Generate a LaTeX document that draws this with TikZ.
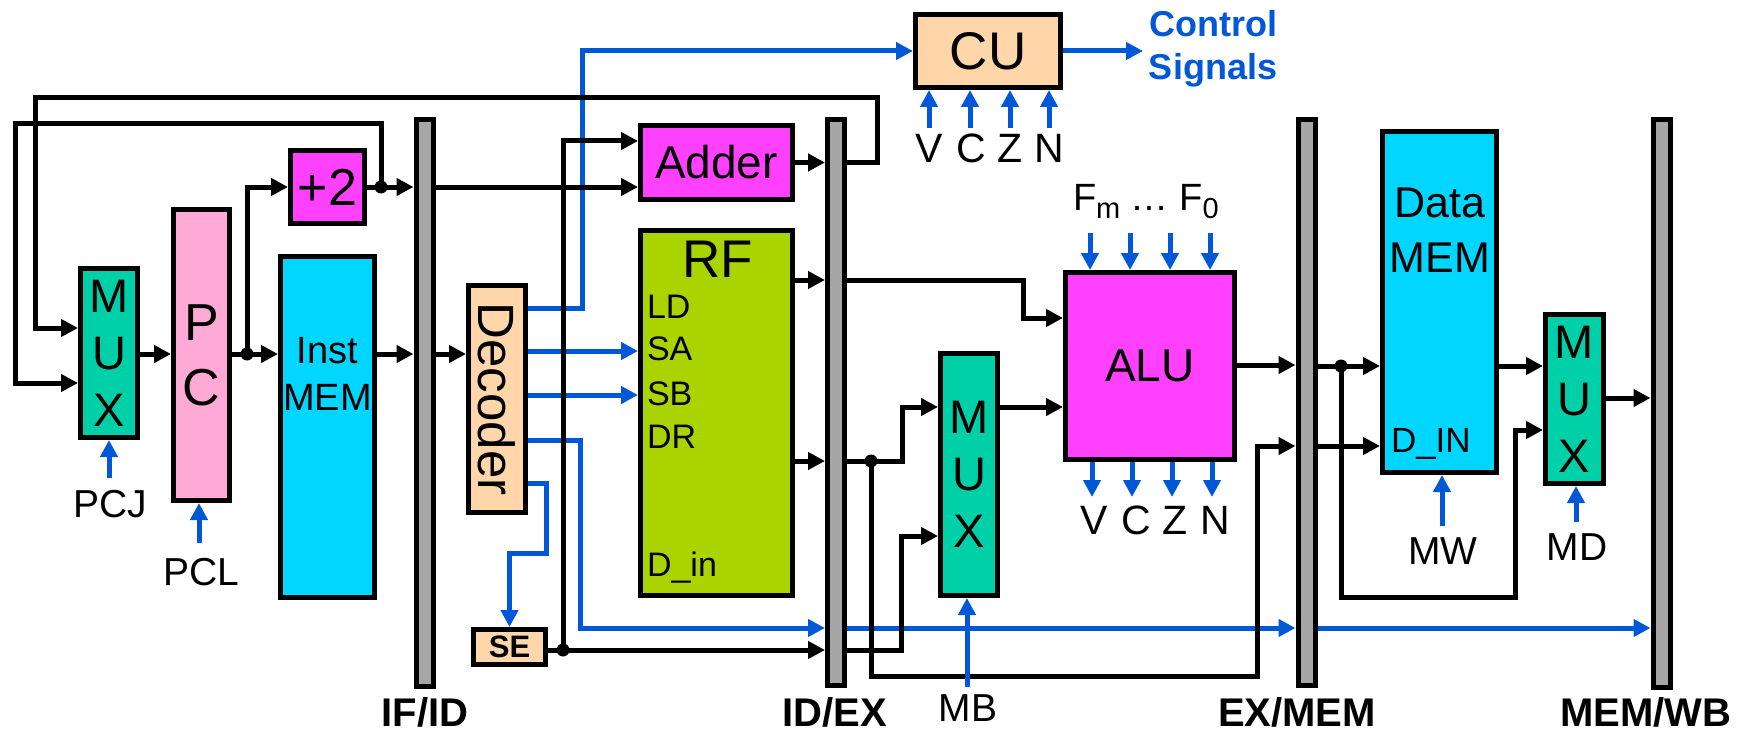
\documentclass[tikz,border=0pt]{standalone}
\usepackage{fontspec}
\setmainfont{Liberation Sans}
\usetikzlibrary{arrows.meta}
\definecolor{muxg}{HTML}{00D0A8}
\definecolor{pcpink}{HTML}{FFAAD6}
\definecolor{memcyan}{HTML}{00D6FF}
\definecolor{magen}{HTML}{FF40FF}
\definecolor{rfgreen}{HTML}{AAD400}
\definecolor{peach}{HTML}{FFD6AA}
\definecolor{bargray}{HTML}{A6A6A6}
\definecolor{sigblue}{HTML}{0058D8}
\newcommand{\fsz}[1]{\fontsize{#1pt}{#1pt}\selectfont}
\begin{document}
\begin{tikzpicture}[x=1pt,y=-1pt,
  box/.style={draw=black,line width=5pt,inner sep=0pt},
  bar/.style={box,fill=bargray,minimum width=17pt},
  wire/.style={draw=black,line width=5pt,-{Triangle[length=17pt,width=17pt]}},
  lnk/.style={draw=black,line width=5pt},
  bwire/.style={draw=sigblue,line width=5pt,-{Triangle[length=17pt,width=17pt]}},
  jdot/.style={circle,fill=black,minimum size=13pt,inner sep=0pt},
  txt/.style={inner sep=0pt,outer sep=0pt},
  stage/.style={txt,font=\bfseries\fsz{40},anchor=base},
  sig/.style={txt,font=\fsz{39},anchor=base},
]
\useasboundingbox (0,0) rectangle (1746,733);

% ---------- boxes ----------
\node[box,fill=muxg,minimum width=57pt,minimum height=169pt,align=center,font=\fontsize{47pt}{57pt}\selectfont] (mux1) at (109,353) {M\\U\\X};
\node[box,fill=pcpink,minimum width=56pt,minimum height=291pt,align=center,font=\fontsize{52pt}{65pt}\selectfont] (pc) at (201.5,355) {P\\C};
\node[box,fill=memcyan,minimum width=94pt,minimum height=341pt] (imem) at (327.5,427) {};
\node[txt,font=\fsz{38},anchor=base] (imemA) at (327.5,363) {Inst};
\node[txt,font=\fsz{38},anchor=base] (imemB) at (327.5,410) {MEM};
\node[box,fill=magen,minimum width=74pt,minimum height=73pt,font=\fsz{52}] (plus) at (327.5,187) {+2};
\node[bar,minimum height=567pt] (ifid) at (424.5,403) {};
\node[box,fill=peach,minimum width=57pt,minimum height=227pt] (dec) at (497,399) {};
\node[txt,font=\fsz{51},rotate=-90] (decT) at (dec.center) {Decoder};
\node[box,fill=peach,minimum width=72pt,minimum height=35pt,font=\bfseries\fsz{31}] (se) at (509.5,647) {SE};
\node[box,fill=magen,minimum width=152pt,minimum height=74pt,font=\fsz{46}] (adder) at (716.5,162.5) {Adder};
\node[box,fill=rfgreen,minimum width=152pt,minimum height=365pt] (rf) at (716.5,413) {};
\node[txt,font=\fsz{53},anchor=base] (rfT) at (718,277) {RF};
\node[txt,font=\fsz{34},anchor=base west] (rfLD) at (647,318) {LD};
\node[txt,font=\fsz{34},anchor=base west] (rfSA) at (647,360) {SA};
\node[txt,font=\fsz{34},anchor=base west] (rfSB) at (647,405) {SB};
\node[txt,font=\fsz{34},anchor=base west] (rfDR) at (647,448) {DR};
\node[txt,font=\fsz{34},anchor=base west] (rfDin) at (647,576) {D\_in};
\node[bar,minimum height=566pt] (idex) at (836,402.5) {};
\node[box,fill=peach,minimum width=145pt,minimum height=73pt,font=\fsz{53}] (cu) at (988,51) {CU};
\node[txt,font=\bfseries\fontsize{36pt}{43pt}\selectfont,text=sigblue,align=center,anchor=north] (ctrl) at (1213,10) {Control\\Signals};
\node[box,fill=muxg,minimum width=57pt,minimum height=242pt,align=center,font=\fontsize{47pt}{57pt}\selectfont] (mux2) at (969,474.5) {M\\U\\X};
\node[box,fill=magen,minimum width=169pt,minimum height=187pt,font=\fsz{46}] (alu) at (1150,366) {ALU};
\node[bar,minimum height=566pt] (exmem) at (1306.5,402.5) {};
\node[box,fill=memcyan,minimum width=114pt,minimum height=341pt] (dmem) at (1439.5,302) {};
\node[txt,font=\fsz{43},anchor=base] (dmemA) at (1440,217) {Data};
\node[txt,font=\fsz{43},anchor=base] (dmemB) at (1440,272) {MEM};
\node[txt,font=\fsz{35},anchor=base west] (dmemIn) at (1391,452) {D\_IN};
\node[box,fill=muxg,minimum width=58pt,minimum height=169pt,align=center,font=\fontsize{47pt}{57pt}\selectfont] (mux3) at (1574.5,399) {M\\U\\X};
\node[bar,minimum height=568pt] (memwb) at (1661.5,403.5) {};

% ---------- junctions ----------
\node[jdot] (j1) at (247,354) {};
\node[jdot] (j2) at (381,187) {};
\node[jdot] (j3) at (563,650) {};
\node[jdot] (j4) at (871,461) {};
\node[jdot] (j5) at (1341,366) {};

% ---------- blue control paths ----------
\draw[bwire] (dec.east |- 0,308) -| (582,51) -- (cu.west);
\draw[bwire] (dec.east |- 0,351) -- (rf.west |- 0,351);
\draw[bwire] (dec.east |- 0,395) -- (rf.west |- 0,395);
\draw[bwire] (dec.east |- 0,440) -| (580,628) -- (idex.west |- 0,628);
\draw[bwire] (dec.east |- 0,483) -| (546,553) -| (se.north);
\draw[bwire] (idex.east |- 0,628) -- (exmem.west |- 0,628);
\draw[bwire] (exmem.east |- 0,628) -- (memwb.west |- 0,628);
\coordinate (csig) at (1143,51);
\draw[bwire] (cu.east) -- (csig);

% ---------- black data paths ----------
\draw[wire] (mux1.east |- j1.center) -- (pc.west |- j1.center);
\draw[lnk] (pc.east |- j1.center) -- (j1.center);
\draw[wire] (j1.center) -- (imem.west |- j1.center);
\draw[wire] (j1.center) |- (plus.west);
\draw[lnk] (plus.east) -- (j2.center);
\draw[wire] (j2.center) -- (ifid.west |- j2.center);
\draw[wire] (j2.center) |- (15,124) |- (mux1.west |- 0,383);
\draw[wire] (ifid.east |- j2.center) -- (adder.west |- j2.center);
\draw[wire] (imem.east |- j1.center) -- (ifid.west |- j1.center);
\draw[wire] (ifid.east |- j1.center) -- (dec.west |- j1.center);
\draw[lnk] (se.east |- j3.center) -- (j3.center);
\draw[wire] (j3.center) -- (idex.west |- j3.center);
\draw[wire] (j3.center) |- (adder.west |- 0,141);
\draw[wire] (adder.east) -- (idex.west |- adder.east);
\draw[wire] (idex.east |- adder.east) -| (877,98) -| (35,328) -- (mux1.west |- 0,328);
\draw[wire] (rf.east |- 0,280) -- (idex.west |- 0,280);
\draw[wire] (rf.east |- j4.center) -- (idex.west |- j4.center);
\draw[wire] (idex.east |- 0,280) -| (1023,318) -- (alu.west |- 0,318);
\draw[lnk] (idex.east |- j4.center) -- (j4.center);
\draw[wire] (j4.center) -| (902,407) -- (mux2.west |- 0,407);
\draw[wire] (j4.center) |- (1257,676) |- (exmem.west |- 0,446);
\draw[wire] (idex.east |- j3.center) -| (901,536) -- (mux2.west |- 0,536);
\draw[wire] (mux2.east |- 0,407) -- (alu.west |- 0,407);
\draw[wire] (alu.east |- 0,365) -- (exmem.west |- 0,365);
\draw[lnk] (exmem.east |- j5.center) -- (j5.center);
\draw[wire] (j5.center) -- (dmem.west |- j5.center);
\draw[wire] (exmem.east |- 0,446) -- (dmem.west |- 0,446);
\draw[wire] (j5.center) |- (1515,597) |- (mux3.west |- 0,430);
\draw[wire] (dmem.east |- j5.center) -- (mux3.west |- j5.center);
\draw[wire] (mux3.east |- 0,398) -- (memwb.west |- 0,398);

% ---------- control inputs / flags ----------
\draw[bwire] (109,478) -- (mux1.south);
\draw[bwire] (199,543) -- (pc.south -| 199,0);
\draw[bwire] (967,687) -- (mux2.south -| 967,0);
\draw[bwire] (1442,526) -- (dmem.south -| 1442,0);
\draw[bwire] (1576,522) -- (mux3.south -| 1576,0);
\foreach \x in {929,970,1010,1049} \draw[bwire] (\x,128) -- (cu.south -| \x,0);
\foreach \x in {1090,1130,1170,1210} \draw[bwire] (\x,233) -- (alu.north -| \x,0);
\foreach \x in {1092,1132,1172,1212} \draw[bwire] (alu.south -| \x,0) -- (\x,497);

% ---------- labels ----------
\node[sig] (pcj) at (110,517) {PCJ};
\node[sig] (pcl) at (201,585) {PCL};
\node[sig] (mb) at (968,721) {MB};
\node[sig] (mw) at (1443,564) {MW};
\node[sig] (md) at (1577,560) {MD};
\foreach \x/\t in {929/V,971/C,1010/Z,1049/N} \node[txt,font=\fsz{41},anchor=base] (cu\t) at (\x,163) {\t};
\foreach \x/\t in {1094/V,1136/C,1175/Z,1215/N} \node[txt,font=\fsz{41},anchor=base] (alu\t) at (\x,534) {\t};
\node[txt,font=\fsz{38},anchor=base west] (flags) at (1073,211) {F\raisebox{-7pt}{\fsz{29}m} … F\raisebox{-7pt}{\fsz{29}0}};
\node[stage] (lifid) at (425,726) {IF/ID};
\node[stage] (lidex) at (835,726) {ID/EX};
\node[stage] (lexmem) at (1297,726) {EX/MEM};
\node[stage] (lmemwb) at (1646,726) {MEM/WB};
\end{tikzpicture}
\end{document}
